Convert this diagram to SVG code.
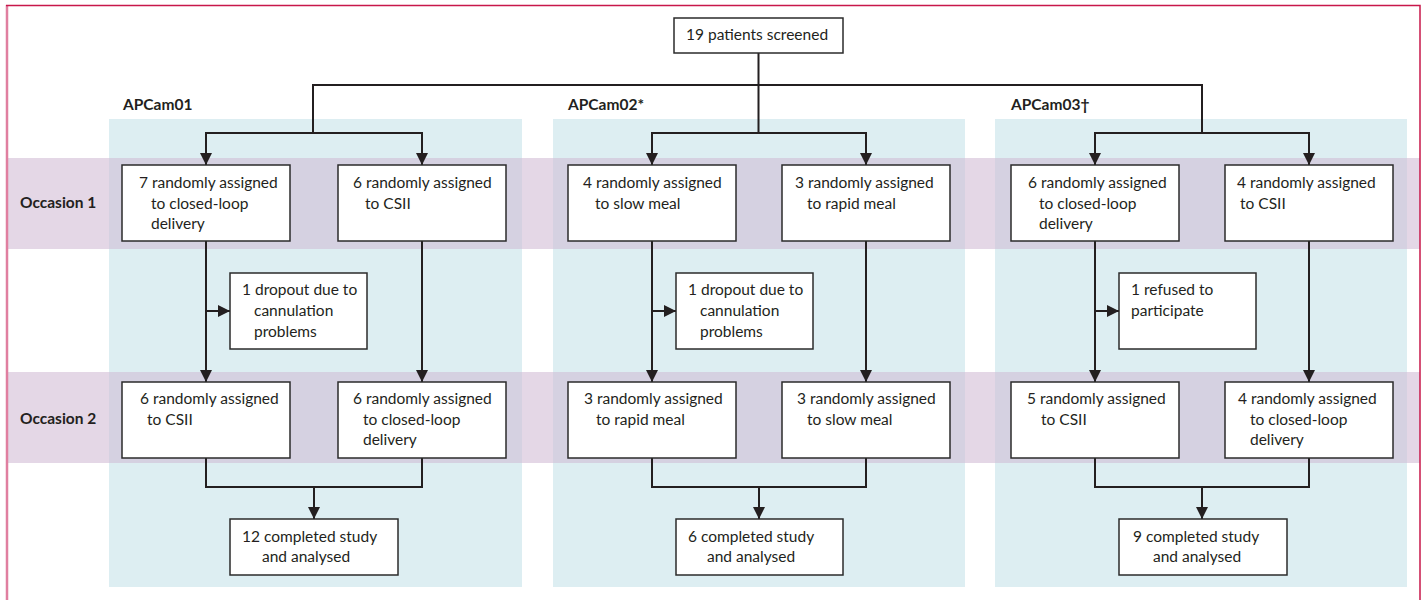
<svg xmlns="http://www.w3.org/2000/svg" width="1424" height="600" viewBox="0 0 1424 600">
<defs>
<marker id="ah" viewBox="0 0 12 12" markerWidth="12" markerHeight="12" markerUnits="userSpaceOnUse" refX="12" refY="6" orient="auto">
<path d="M0,0 L12,6 L0,12 z" fill="#231f20"/>
</marker>
<style>
.bg{fill:#ffffff}
.panel{fill:#ddeef2}
.band{fill:#e4d7e6}
.ov{fill:#d5d1e1}
.box{fill:#ffffff;stroke:#2b2b2b;stroke-width:1.5}
.t{font-family:Lato,"Liberation Sans",sans-serif;font-size:15.5px;fill:#231f20}
.b{font-family:Lato,"Liberation Sans",sans-serif;font-size:15.5px;font-weight:bold;fill:#231f20}
.c{fill:none;stroke:#231f20;stroke-width:2}
.a{fill:none;stroke:#231f20;stroke-width:2;marker-end:url(#ah)}
</style>
</defs>
<rect class="bg" x="0" y="0" width="1424" height="600"/>
<g id="background">
<rect class="panel" x="109" y="119" width="413" height="468"/>
<rect class="panel" x="553" y="119" width="412" height="468"/>
<rect class="panel" x="995" y="119" width="412" height="468"/>
<rect class="band" x="8" y="158" width="1412" height="91"/>
<rect class="band" x="8" y="372" width="1412" height="91"/>
<rect class="ov" x="109" y="158" width="413" height="91"/>
<rect class="ov" x="553" y="158" width="412" height="91"/>
<rect class="ov" x="995" y="158" width="412" height="91"/>
<rect class="ov" x="109" y="372" width="413" height="91"/>
<rect class="ov" x="553" y="372" width="412" height="91"/>
<rect class="ov" x="995" y="372" width="412" height="91"/>
<path d="M7,600 V5" stroke="#e07fa0" stroke-width="2.5" fill="none"/>
<path d="M6,5.5 H1420 V600" stroke="#c8174a" stroke-width="1.5" fill="none"/>
</g>
<g id="labels">
<text class="b" x="123" y="110">APCam01</text>
<text class="b" x="568" y="110">APCam02*</text>
<text class="b" x="1011" y="110">APCam03†</text>
<text class="b" x="20" y="208">Occasion 1</text>
<text class="b" x="20" y="424">Occasion 2</text>
</g>
<g id="connectors">
<path class="c" d="M758.5,53 V85 M313,85 H1202 M313,84 V134 M758.5,85 V134 M1202,84 V134"/>
<path class="c" d="M206,133 H422 M652,133 H866 M1095,133 H1309"/>
<path class="a" d="M206,132 V165"/>
<path class="a" d="M422,132 V165"/>
<path class="a" d="M652,132 V165"/>
<path class="a" d="M866,132 V165"/>
<path class="a" d="M1095,132 V165"/>
<path class="a" d="M1309,132 V165"/>
<path class="a" d="M206,241 V382"/>
<path class="a" d="M422,241 V382"/>
<path class="a" d="M652,241 V382"/>
<path class="a" d="M866,241 V382"/>
<path class="a" d="M1095,241 V382"/>
<path class="a" d="M1309,241 V382"/>
<path class="a" d="M206,311 H230"/>
<path class="a" d="M652,311 H676"/>
<path class="a" d="M1095,311 H1119"/>
<path class="c" d="M206,458 V487 H422 V458 M652,458 V487 H866 V458 M1095,458 V487 H1309 V458"/>
<path class="a" d="M314,486 V519"/>
<path class="a" d="M759,486 V519"/>
<path class="a" d="M1202,486 V519"/>
</g>
<g id="n-screened">
<rect class="box" x="674" y="18" width="169" height="35"/>
<text class="t" x="686" y="40">19 patients screened</text>
</g>
<g id="n-a1-o1-l">
<rect class="box" x="122" y="165" width="168" height="76"/>
<text class="t" x="139" y="188">7 randomly assigned</text>
<text class="t" x="151" y="208.5">to closed-loop</text>
<text class="t" x="151" y="229">delivery</text>
</g>
<g id="n-a1-o1-r">
<rect class="box" x="338" y="165" width="168" height="76"/>
<text class="t" x="353" y="188">6 randomly assigned</text>
<text class="t" x="365" y="208.5">to CSII</text>
</g>
<g id="n-a1-drop">
<rect class="box" x="230" y="273" width="137" height="76"/>
<text class="t" x="242" y="295">1 dropout due to</text>
<text class="t" x="254" y="316">cannulation</text>
<text class="t" x="254" y="337">problems</text>
</g>
<g id="n-a1-o2-l">
<rect class="box" x="122" y="382" width="168" height="76"/>
<text class="t" x="140" y="404">6 randomly assigned</text>
<text class="t" x="147" y="424.5">to CSII</text>
</g>
<g id="n-a1-o2-r">
<rect class="box" x="338" y="382" width="168" height="76"/>
<text class="t" x="353" y="404">6 randomly assigned</text>
<text class="t" x="363" y="424.5">to closed-loop</text>
<text class="t" x="363" y="445">delivery</text>
</g>
<g id="n-a1-done">
<rect class="box" x="230" y="519" width="168" height="56"/>
<text class="t" x="242" y="542">12 completed study</text>
<text class="t" x="262" y="562">and analysed</text>
</g>
<g id="n-a2-o1-l">
<rect class="box" x="568" y="165" width="168" height="76"/>
<text class="t" x="583" y="188">4 randomly assigned</text>
<text class="t" x="595" y="208.5">to slow meal</text>
</g>
<g id="n-a2-o1-r">
<rect class="box" x="782" y="165" width="168" height="76"/>
<text class="t" x="795" y="188">3 randomly assigned</text>
<text class="t" x="807" y="208.5">to rapid meal</text>
</g>
<g id="n-a2-drop">
<rect class="box" x="676" y="273" width="137" height="76"/>
<text class="t" x="688" y="295">1 dropout due to</text>
<text class="t" x="700" y="316">cannulation</text>
<text class="t" x="700" y="337">problems</text>
</g>
<g id="n-a2-o2-l">
<rect class="box" x="568" y="382" width="168" height="76"/>
<text class="t" x="584" y="404">3 randomly assigned</text>
<text class="t" x="596" y="424.5">to rapid meal</text>
</g>
<g id="n-a2-o2-r">
<rect class="box" x="782" y="382" width="168" height="76"/>
<text class="t" x="797" y="404">3 randomly assigned</text>
<text class="t" x="807" y="424.5">to slow meal</text>
</g>
<g id="n-a2-done">
<rect class="box" x="676" y="519" width="167" height="56"/>
<text class="t" x="688" y="542">6 completed study</text>
<text class="t" x="707" y="562">and analysed</text>
</g>
<g id="n-a3-o1-l">
<rect class="box" x="1011" y="165" width="168" height="76"/>
<text class="t" x="1028" y="188">6 randomly assigned</text>
<text class="t" x="1039" y="208.5">to closed-loop</text>
<text class="t" x="1039" y="229">delivery</text>
</g>
<g id="n-a3-o1-r">
<rect class="box" x="1225" y="165" width="168" height="76"/>
<text class="t" x="1237" y="188">4 randomly assigned</text>
<text class="t" x="1240" y="208.5">to CSII</text>
</g>
<g id="n-a3-refused">
<rect class="box" x="1119" y="273" width="137" height="76"/>
<text class="t" x="1131" y="295">1 refused to</text>
<text class="t" x="1131" y="316">participate</text>
</g>
<g id="n-a3-o2-l">
<rect class="box" x="1011" y="382" width="168" height="76"/>
<text class="t" x="1027" y="404">5 randomly assigned</text>
<text class="t" x="1041" y="424.5">to CSII</text>
</g>
<g id="n-a3-o2-r">
<rect class="box" x="1225" y="382" width="168" height="76"/>
<text class="t" x="1238" y="404">4 randomly assigned</text>
<text class="t" x="1250" y="424.5">to closed-loop</text>
<text class="t" x="1250" y="445">delivery</text>
</g>
<g id="n-a3-done">
<rect class="box" x="1119" y="519" width="168" height="56"/>
<text class="t" x="1133" y="542">9 completed study</text>
<text class="t" x="1153" y="562">and analysed</text>
</g>
</svg>
